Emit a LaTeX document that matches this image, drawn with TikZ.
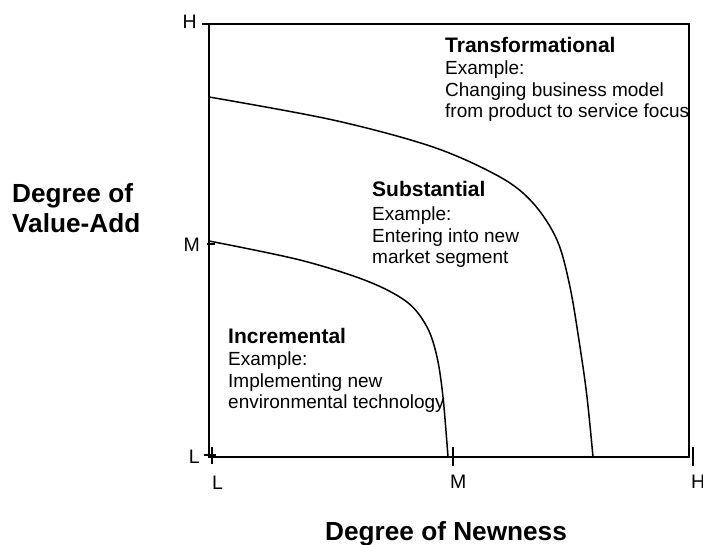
\documentclass[tikz,border=0pt]{standalone}
\usepackage{fontspec}
\setmainfont{Liberation Sans}
\begin{document}
\begin{tikzpicture}[x=1pt,y=-1pt,
  axis/.style={line width=2pt},
  tickline/.style={line width=1.6pt},
  curve/.style={line width=1.5pt},
  txt/.style={anchor=base west,inner sep=0pt,font=\fontsize{19}{22}\selectfont},
  ttl/.style={anchor=base west,inner sep=0pt,font=\bfseries\fontsize{21}{24}\selectfont},
  axlbl/.style={anchor=base west,inner sep=0pt,font=\bfseries\fontsize{26.2}{30}\selectfont},
  tlbl/.style={inner sep=0pt,font=\fontsize{19.5}{22}\selectfont}]
\useasboundingbox (0,0) rectangle (703,545);
% frame
\coordinate (tl) at (209,24);
\coordinate (br) at (689,457);
\draw[axis] (tl) rectangle (br);
% left ticks
\coordinate (hy1) at (202,24); \coordinate (hy2) at (209,24);
\coordinate (my1) at (207,244); \coordinate (my2) at (215,244);
\coordinate (ly1) at (204,455); \coordinate (ly2) at (216,455);
\draw[tickline] (hy1) -- (hy2);
\draw[tickline] (my1) -- (my2);
\draw[tickline] (ly1) -- (ly2);
% bottom ticks
\coordinate (lx1) at (212,447); \coordinate (lx2) at (212,464);
\coordinate (mx1) at (453,447); \coordinate (mx2) at (453,466);
\coordinate (hx1) at (693,447); \coordinate (hx2) at (693,466);
\draw[tickline] (lx1) -- (lx2);
\draw[tickline] (mx1) -- (mx2);
\draw[tickline] (hx1) -- (hx2);
% tick labels
\node[tlbl,anchor=base east] (lH) at (197,29) {H};
\node[tlbl,anchor=base east] (lM) at (200,251) {M};
\node[tlbl,anchor=base east] (lL) at (200,463) {L};
\node[tlbl,anchor=base west] (bL) at (212,489) {L};
\node[tlbl,anchor=base west] (bM) at (450,488) {M};
\node[tlbl,anchor=base west] (bH) at (691,488) {H};
% curves
\draw[curve] plot[smooth,tension=0.55] coordinates {(209,97) (333,120) (433,147) (500,177) (533,203) (557,240) (570,287) (580,347) (587,397) (593,457)};
\draw[curve] plot[smooth,tension=0.55] coordinates {(209,241) (300,260) (367,281) (407,302) (427,327) (437,357) (443,397) (448,457)};
% axis labels
\node[axlbl] (ya1) at (12,203) {Degree of};
\node[axlbl] (ya2) at (12,233) {Value-Add};
\node[axlbl] (xa) at (325,540) {Degree of Newness};
% Transformational
\node[ttl] (t1) at (445,53) {Transformational};
\node[txt] (t2) at (445,75) {Example:};
\node[txt] (t3) at (445,97) {Changing business model};
\node[txt] (t4) at (445,118) {from product to service focus};
% Substantial
\node[ttl] (s1) at (372,197) {Substantial};
\node[txt] (s2) at (372,220) {Example:};
\node[txt] (s3) at (372,242) {Entering into new};
\node[txt] (s4) at (372,263) {market segment};
% Incremental
\node[ttl] (i1) at (228,343) {Incremental};
\node[txt] (i2) at (228,365) {Example:};
\node[txt] (i3) at (228,387) {Implementing new};
\node[txt] (i4) at (228,408) {environmental technology};
\end{tikzpicture}
\end{document}
